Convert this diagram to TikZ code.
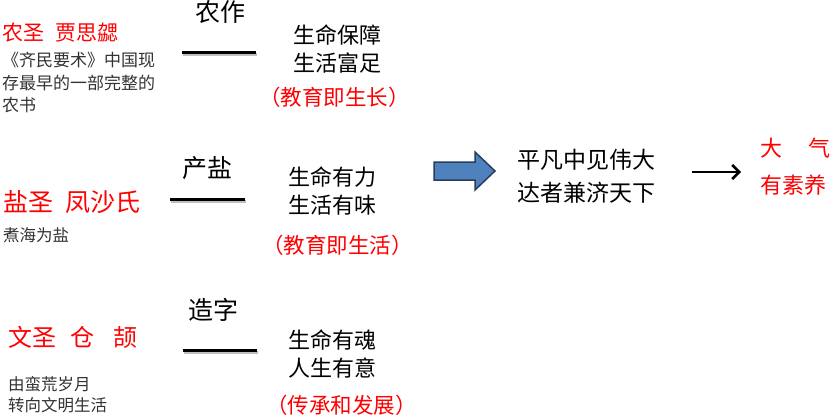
\documentclass[tikz,border=0pt]{standalone}
\usepackage{fontspec}
\setmainfont{Noto Sans CJK SC}
\usetikzlibrary{arrows.meta}
\definecolor{arrowblue}{RGB}{79,129,189}
\definecolor{arrowedge}{RGB}{40,62,95}

\tikzset{
  sage/.style={anchor=base west, inner sep=0, text=red},
  note/.style={anchor=base west, inner sep=0, align=left, text=black!80},
  craft/.style={anchor=base, inner sep=0, font=\fontsize{25}{25}\selectfont},
  gain/.style={anchor=base west, inner sep=0, align=left, font=\fontsize{22}{28}\selectfont},
  motto/.style={anchor=base west, inner sep=0, text=red, font=\fontsize{21.5}{21.5}\selectfont},
  bar/.style={line width=3pt},
  barshade/.style={line width=2.5pt, black!25},
}

\begin{document}
\begin{tikzpicture}[x=1pt, y=-1pt]
  \useasboundingbox (0,0) rectangle (830,416);

  \node[sage, font=\fontsize{21}{21}\selectfont] (nong) at (2,40) {农圣\hspace{0.55em}贾思勰};
  \node[note, font=\fontsize{17}{22.5}\selectfont] (nongnote) at (2,111.5) {《齐民要术》中国现\\存最早的一部完整的\\农书};
  \node[craft] (farm) at (220,21) {农作};
  \node[gain] (farmgain) at (293,71.5) {生命保障\\生活富足};
  \node[motto] (farmedu) at (259,105) {（教育即生长）};

  \node[sage, font=\fontsize{25}{25}\selectfont] (yan) at (3,211.5) {盐圣\hspace{0.5em}凤沙氏};
  \node[note, font=\fontsize{16.5}{20}\selectfont] (yannote) at (3,241) {煮海为盐};
  \node[craft] (salt) at (207,177) {产盐};
  \node[gain] (saltgain) at (288,213.5) {生命有力\\生活有味};
  \node[motto] (saltedu) at (262,253) {（教育即生活）};

  \node[sage, font=\fontsize{24}{24}\selectfont] (wen) at (8,346) {文圣\hspace{0.6em}仓\hspace{0.8em}颉};
  \node[note, font=\fontsize{16.5}{21}\selectfont] (wennote) at (8,411) {由蛮荒岁月\\转向文明生活};
  \node[craft] (word) at (213,319) {造字};
  \node[gain] (wordgain) at (288,376.5) {生命有魂\\人生有意};
  \node[motto] (wordedu) at (266,413) {（传承和发展）};

  \foreach \xa/\xb/\y in {182/256/52, 170/245/199, 183/257/350}{
    \draw[barshade] (\xa+1,\y+2.5) -- (\xb+1,\y+2.5);
    \draw[bar] (\xa,\y) -- (\xb,\y);
  }

  \filldraw[fill=arrowblue, draw=arrowedge, line width=1.5pt, line join=miter]
    (434,162) -- (475,162) -- (475,152) -- (495,171) -- (475,190) -- (475,180) -- (434,180) -- cycle;

  \node[gain, font=\fontsize{23}{33}\selectfont] (sum) at (517,201.5) {平凡中见伟大\\达者兼济天下};
  \node[gain, text=red, font=\fontsize{22}{37}\selectfont] (goal) at (760,193.5) {大\hspace{26pt}气\\有素养};

  \coordinate (from) at (692,172);
  \coordinate (to) at (741,172);
  \draw[line width=2.6pt, -{Straight Barb[length=7pt, width=14pt]}] (from) -- (to);
\end{tikzpicture}
\end{document}
